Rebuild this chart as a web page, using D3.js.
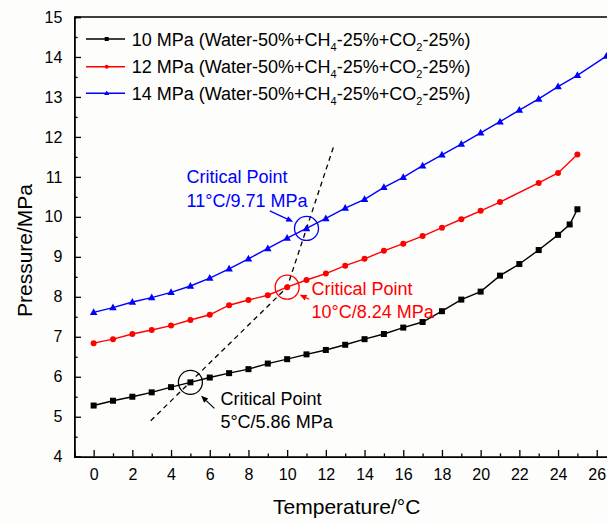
<!DOCTYPE html>
<html>
<head>
<meta charset="utf-8">
<script src="https://cdn.jsdelivr.net/npm/d3@7/dist/d3.min.js"></script>
<style>
  html, body { margin: 0; padding: 0; background: #fdfdfb; }
  svg { display: block; font-family: "Liberation Sans", Arial, sans-serif; }
</style>
</head>
<body>
<svg id="chart" width="607" height="523"></svg>
<script>
// ---- Data ----
const temps10 = [0,1,2,3,4,5,6,7,8,9,10,11,12,13,14,15,16,17,18,19,20,21,22,23,24,24.6,25];
const pres10  = [5.28,5.40,5.50,5.61,5.74,5.86,5.98,6.09,6.19,6.33,6.44,6.56,6.67,6.80,6.94,7.07,7.23,7.37,7.64,7.93,8.13,8.53,8.82,9.17,9.55,9.81,10.19];

const temps12 = [0,1,2,3,4,5,6,7,8,9,10,11,12,13,14,15,16,17,18,19,20,21,23,24,25];
const pres12  = [6.84,6.94,7.07,7.17,7.28,7.42,7.55,7.79,7.92,8.04,8.24,8.42,8.58,8.78,8.95,9.15,9.33,9.52,9.73,9.94,10.15,10.37,10.85,11.10,11.56];

const temps14 = [0,1,2,3,4,5,6,7,8,9,10,11,12,13,14,15,16,17,18,19,20,21,22,23,24,25,26.5];
const pres14  = [7.61,7.73,7.87,7.98,8.11,8.27,8.47,8.70,8.95,9.21,9.47,9.71,9.96,10.22,10.44,10.74,10.99,11.28,11.55,11.82,12.10,12.38,12.67,12.95,13.26,13.54,14.02];

const seriesNames = ["10 MPa", "12 MPa", "14 MPa"];
const legendSuffix = ["(Water-50%+CH", "4", "-25%+CO", "2", "-25%)"];

// critical points
const critT = [5, 10, 11];
const critP = [5.86, 8.24, 9.71];
const critLabel1 = ["Critical Point", "Critical Point", "Critical Point"];
const critLabel2 = ["5°C/5.86 MPa", "10°C/8.24 MPa", "11°C/9.71 MPa"];

// dashed trend line through critical points
const dashT = [2.95, 10, 12.43];
const dashP = [4.90, 8.24, 11.80];

const xTicks = [0,2,4,6,8,10,12,14,16,18,20,22,24,26];
const yTicks = [4,5,6,7,8,9,10,11,12,13,14,15];

// ---- Layout / style ----
const colors = ["#000000", "#ff0000", "#0000ff"];
const svg = d3.select("#chart");
const plotLeft = 74.3, plotTop = 17, plotBottom = 456.7;
const unit = 19.35;
const x = d3.scaleLinear().domain([-1, 27]).range([plotLeft, plotLeft + 28 * unit]);
const y = d3.scaleLinear().domain([4, 15]).range([plotBottom, plotTop]);

// axes
const gx = svg.append("g").attr("transform", `translate(0,${plotBottom})`)
  .call(d3.axisBottom(x).tickValues(xTicks).tickSize(-6.7).tickPadding(12).tickFormat(d3.format("d")));
const gxm = svg.append("g").attr("transform", `translate(0,${plotBottom})`)
  .call(d3.axisBottom(x).tickValues(d3.range(1, 27, 2)).tickSize(-3.3).tickFormat(""));
const gy = svg.append("g").attr("transform", `translate(${plotLeft},0)`)
  .call(d3.axisLeft(y).tickValues(yTicks).tickSize(-6.7).tickPadding(12).tickFormat(d3.format("d")));
const gym = svg.append("g").attr("transform", `translate(${plotLeft},0)`)
  .call(d3.axisLeft(y).tickValues(d3.range(4.5, 15, 1)).tickSize(-3.3).tickFormat(""));
[gx, gxm, gy, gym].forEach(g => {
  g.select(".domain").attr("stroke", "#000").attr("stroke-width", 1.5);
  g.selectAll(".tick line").attr("stroke", "#000").attr("stroke-width", 1.3);
  g.selectAll(".tick text").attr("font-size", 16).attr("fill", "#000")
    .attr("font-family", "Liberation Sans, Arial, sans-serif");
});
// top frame
svg.append("line").attr("x1", plotLeft).attr("x2", 607).attr("y1", plotTop).attr("y2", plotTop)
  .attr("stroke", "#000").attr("stroke-width", 1.5);

// axis titles
svg.append("text").attr("x", 346.7).attr("y", 514).attr("text-anchor", "middle")
  .attr("font-size", 21).text("Temperature/°C");
svg.append("text").attr("transform", "translate(32,250.5) rotate(-90)")
  .attr("text-anchor", "middle").attr("font-size", 21).text("Pressure/MPa");

// dashed line
const lineGen = d3.line().x(d => x(d[0])).y(d => y(d[1]));
svg.append("path").datum(dashT.map((t, i) => [t, dashP[i]]))
  .attr("d", lineGen).attr("fill", "none").attr("stroke", "#000")
  .attr("stroke-width", 1.3).attr("stroke-dasharray", "5,4");

// series
const series = [
  { t: temps10, p: pres10, c: colors[0], m: "square" },
  { t: temps12, p: pres12, c: colors[1], m: "circle" },
  { t: temps14, p: pres14, c: colors[2], m: "triangle" }
];
function marker(g, type, color, cx, cy, s) {
  if (type === "square") {
    g.append("rect").attr("x", cx - s / 2).attr("y", cy - s / 2).attr("width", s).attr("height", s).attr("fill", color);
  } else if (type === "circle") {
    g.append("circle").attr("cx", cx).attr("cy", cy).attr("r", s / 2).attr("fill", color);
  } else {
    const h = s * 0.9;
    g.append("path").attr("d", `M${cx},${cy - h * 0.6}L${cx + s / 2},${cy + h * 0.4}L${cx - s / 2},${cy + h * 0.4}Z`).attr("fill", color);
  }
}
const plot = svg.append("g");
series.forEach(s => {
  const pts = s.t.map((t, i) => [t, s.p[i]]);
  plot.append("path").datum(pts).attr("d", lineGen).attr("fill", "none")
    .attr("stroke", s.c).attr("stroke-width", 1.4);
  const size = s.m === "square" ? 6 : s.m === "circle" ? 6 : 7.5;
  pts.forEach(d => marker(plot, s.m, s.c, x(d[0]), y(d[1]), size));
});

// critical point annotations
const critStyle = [
  { c: colors[0], tdx: 30, tdy1: 22.7, tdy2: 46, a: [24, 26, 10.7, 13.4] },
  { c: colors[1], tdx: 24.4, tdy1: 7.5, tdy2: 30.5, a: [22, 12, 12.5, 7.5] },
  { c: colors[2], tdx: -120, tdy1: -45.6, tdy2: -21.6, a: [-36.7, -17.6, -13.3, -6.6] }
];
function arrow(g, x1, y1, x2, y2, color) {
  const ang = Math.atan2(y2 - y1, x2 - x1);
  const L = 7, W = 3;
  const bx = x2 - L * Math.cos(ang), by = y2 - L * Math.sin(ang);
  g.append("line").attr("x1", x1).attr("y1", y1).attr("x2", bx).attr("y2", by)
    .attr("stroke", color).attr("stroke-width", 1.2);
  g.append("path").attr("d",
    `M${x2},${y2}L${bx + W * Math.sin(ang)},${by - W * Math.cos(ang)}L${bx - W * Math.sin(ang)},${by + W * Math.cos(ang)}Z`)
    .attr("fill", color);
}
critT.forEach((t, i) => {
  const cx = x(t), cy = y(critP[i]), st = critStyle[i];
  svg.append("circle").attr("cx", cx).attr("cy", cy).attr("r", 12)
    .attr("fill", "none").attr("stroke", st.c).attr("stroke-width", 1.3);
  svg.append("text").attr("x", cx + st.tdx).attr("y", cy + st.tdy1).attr("font-size", 18)
    .attr("fill", st.c).text(critLabel1[i]);
  svg.append("text").attr("x", cx + st.tdx).attr("y", cy + st.tdy2).attr("font-size", 18)
    .attr("fill", st.c).text(critLabel2[i]);
  arrow(svg, cx + st.a[0], cy + st.a[1], cx + st.a[2], cy + st.a[3], st.c);
});

// legend
const legY = [39, 66.7, 93.3];
series.forEach((s, i) => {
  const g = svg.append("g");
  g.append("line").attr("x1", 86).attr("x2", 125).attr("y1", legY[i]).attr("y2", legY[i])
    .attr("stroke", s.c).attr("stroke-width", 1.4);
  marker(g, s.m, s.c, 106.7, legY[i], s.m === "triangle" ? 5 : 4);
  const tx = g.append("text").attr("x", 131.7).attr("y", legY[i] + 6.5).attr("font-size", 18).attr("fill", "#000");
  tx.append("tspan").text(seriesNames[i] + " " + legendSuffix[0]);
  tx.append("tspan").attr("font-size", 11).attr("dy", 5).text(legendSuffix[1]);
  tx.append("tspan").attr("dy", -5).text(legendSuffix[2]);
  tx.append("tspan").attr("font-size", 11).attr("dy", 5).text(legendSuffix[3]);
  tx.append("tspan").attr("dy", -5).text(legendSuffix[4]);
});
</script>
</body>
</html>
